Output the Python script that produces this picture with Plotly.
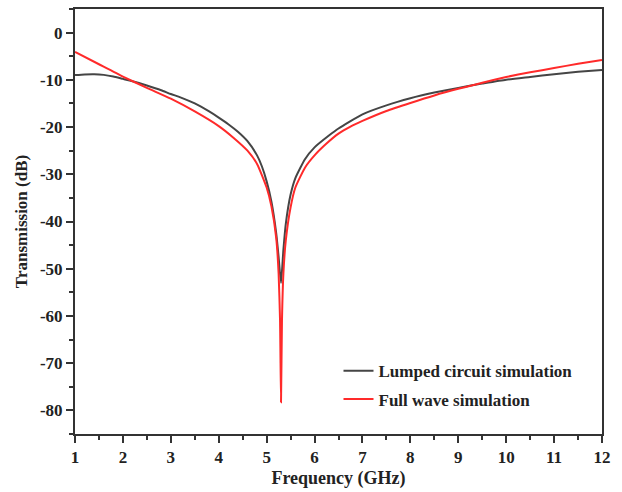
import plotly.graph_objects as go

freq_lumped = [1.0, 1.2, 1.4, 1.6, 1.8, 2.0, 2.2, 2.5, 2.8, 3.0, 3.2, 3.5, 3.8, 4.0, 4.2, 4.4,
               4.6, 4.8, 4.9, 5.0, 5.1, 5.2, 5.25, 5.3, 5.35, 5.4, 5.5, 5.6, 5.8, 6.0, 6.3,
               6.5, 7.0, 7.5, 8.0, 8.5, 9.0, 9.32, 9.5, 10.0, 10.5, 11.0, 11.5, 12.0]
lumped = [-9.0, -8.85, -8.8, -8.95, -9.3, -9.8, -10.3, -11.2, -12.2, -13.0, -13.7, -15.0,
          -16.7, -18.0, -19.4, -21.0, -23.0, -26.0, -28.3, -31.5, -35.8, -42.5, -47.5, -53.0,
          -46.0, -40.5, -34.3, -30.8, -26.8, -24.3, -21.8, -20.3, -17.3, -15.4, -13.9, -12.7,
          -11.7, -11.1, -10.8, -10.0, -9.4, -8.8, -8.3, -7.9]

freq_full = [1.0, 1.5, 2.0, 2.5, 3.0, 3.5, 4.0, 4.3, 4.6, 4.8, 5.0, 5.1, 5.2, 5.25,
             5.28, 5.3, 5.32, 5.35, 5.4, 5.5, 5.6, 5.8, 6.0, 6.25, 6.5, 6.75, 7.0, 7.5, 8.0,
             8.5, 9.0, 9.32, 9.5, 10.0, 10.5, 11.0, 11.5, 12.0]
full_wave = [-4.1, -6.7, -9.3, -11.7, -14.0, -16.7, -19.8, -22.2, -25.0, -27.8,
             -32.8, -36.8, -43.5, -51.0, -61.0, -78.3, -61.0, -51.0, -44.0, -37.0, -32.8,
             -28.6, -26.0, -23.5, -21.4, -19.9, -18.7, -16.6, -14.9, -13.3, -11.9, -11.1,
             -10.6, -9.4, -8.4, -7.5, -6.6, -5.8]

x_ticks = [1, 2, 3, 4, 5, 6, 7, 8, 9, 10, 11, 12]
y_ticks = [0, -10, -20, -30, -40, -50, -60, -70, -80]

font_family = "Liberation Serif"

fig = go.Figure()
fig.add_trace(go.Scatter(x=freq_lumped, y=lumped, mode="lines", name="<b>Lumped circuit simulation</b>",
                         legendgroup="a",
                         line=dict(color="#454545", width=2, shape="spline", smoothing=0.5)))
fig.add_trace(go.Scatter(x=freq_full, y=full_wave, mode="lines", name="<b>Full wave simulation</b>",
                         legendgroup="b",
                         line=dict(color="#ff2a2a", width=2, shape="spline", smoothing=0.5)))

fig.update_layout(
    width=622, height=492,
    margin=dict(l=75, r=20, t=7, b=58),
    plot_bgcolor="white", paper_bgcolor="white",
    font=dict(family=font_family, size=17, color="#222222"),
    showlegend=True,
    legend=dict(x=0.5, y=0.19, xanchor="left", yanchor="top", bgcolor="rgba(0,0,0,0)",
                font=dict(family=font_family, size=17, color="#222222"), tracegroupgap=3),
    xaxis=dict(
        range=[1, 12], tickmode="array", tickvals=x_ticks, ticktext=[f"<b>{v}</b>" for v in x_ticks],
        ticks="outside", ticklen=7, tickwidth=1.5, tickcolor="#333333",
        minor=dict(dtick=0.5, ticks="outside", ticklen=4, tickwidth=1.5, tickcolor="#333333", showgrid=False),
        showline=True, linecolor="#333333", linewidth=2, mirror=True, showgrid=False, zeroline=False,
        title=dict(text="<b>Frequency (GHz)</b>", font=dict(size=18), standoff=5),
    ),
    yaxis=dict(
        range=[-85, 5], tickmode="array", tickvals=y_ticks, ticktext=[f"<b>{v}</b>" for v in y_ticks],
        ticks="outside", ticklen=7, tickwidth=1.5, tickcolor="#333333",
        minor=dict(tickvals=[5, -5, -15, -25, -35, -45, -55, -65, -75, -85], ticks="outside", ticklen=4,
                   tickwidth=1.5, tickcolor="#333333", showgrid=False),
        showline=True, linecolor="#333333", linewidth=2, mirror=True, showgrid=False, zeroline=False,
        title=dict(text="<b>Transmission (dB)</b>", font=dict(size=17), standoff=8),
    ),
)

fig.write_html("out.html", config={"displayModeBar": False},
               post_script="document.body.style.margin='0';")
